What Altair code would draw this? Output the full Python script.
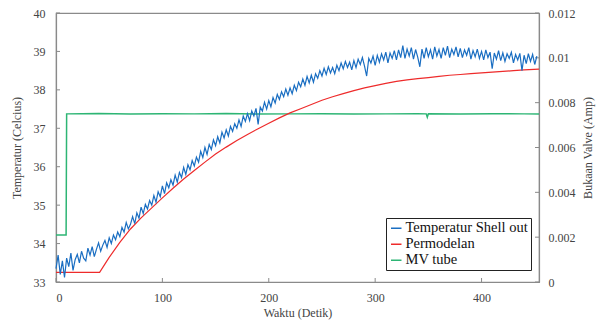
import altair as alt
import pandas as pd

# ---- data ----
series_names = ["Temperatur Shell out", "Permodelan", "MV tube"]
series_colors = ["#1a6ec2", "#ee2b2b", "#2db574"]

# Temperatur Shell out (measured, every 2 s)
blue_t = list(range(0, 454, 2))
blue_v = [
    33.35, 33.70, 33.20, 33.55, 33.12, 33.62, 33.40, 33.75, 33.30, 33.58,
    33.72, 33.50, 33.80, 33.62, 33.55, 33.88, 33.70, 33.92, 33.66, 33.85,
    34.02, 33.80, 33.96, 34.08, 33.90, 34.15, 34.00, 34.22, 34.10, 34.30,
    34.18, 34.42, 34.30, 34.55, 34.38, 34.50, 34.70, 34.52, 34.80, 34.66,
    34.95, 34.78, 35.02, 34.90, 35.12, 35.00, 35.25, 35.08, 35.35, 35.22,
    35.50, 35.30, 35.58, 35.45, 35.66, 35.52, 35.78, 35.60, 35.85, 35.72,
    35.98, 35.80, 36.05, 35.92, 36.16, 36.02, 36.25, 36.12, 36.40, 36.24,
    36.50, 36.32, 36.58, 36.45, 36.70, 36.55, 36.78, 36.62, 36.90, 36.75,
    36.96, 36.80, 37.05, 36.92, 37.12, 37.00, 37.22, 37.05, 37.32, 37.18,
    37.38, 37.20, 37.45, 37.32, 37.52, 37.10, 37.55, 37.45, 37.68, 37.50,
    37.72, 37.56, 37.80, 37.66, 37.88, 37.75, 37.95, 37.82, 38.02, 37.86,
    38.05, 37.90, 38.12, 37.98, 38.20, 38.08, 38.28, 38.12, 38.35, 38.18,
    38.38, 38.20, 38.42, 38.30, 38.50, 38.36, 38.56, 38.40, 38.60, 38.44,
    38.58, 38.42, 38.64, 38.50, 38.70, 38.55, 38.74, 38.58, 38.72, 38.52,
    38.76, 38.58, 38.80, 38.66, 38.84, 38.62, 38.36, 38.82, 38.70, 38.88,
    38.64, 38.90, 38.72, 38.94, 38.78, 38.98, 38.70, 38.96, 38.82, 39.02,
    38.78, 39.04, 38.84, 39.15, 38.82, 39.06, 38.88, 39.10, 38.80, 39.05,
    38.85, 38.60, 39.06, 38.82, 39.10, 38.86, 39.04, 38.80, 39.12, 38.88,
    39.05, 38.82, 39.10, 38.90, 39.14, 38.84, 39.06, 38.92, 39.12, 38.86,
    39.08, 38.84, 39.04, 38.90, 39.10, 38.80, 39.02, 38.86, 39.06, 38.82,
    39.00, 38.78, 39.04, 38.84, 38.98, 38.55, 38.96, 38.80, 39.02, 38.76,
    38.96, 38.74, 38.94, 38.82, 38.98, 38.70, 38.92, 38.78, 38.95, 38.50,
    38.90, 38.68, 38.94, 38.74, 38.92, 38.66, 38.88,
]

# Permodelan (model)
red_t = [0, 41, 50, 60, 70, 80, 90, 100, 110, 120, 130, 140, 150, 160, 170,
         180, 190, 200, 210, 220, 230, 240, 250, 260, 270, 280, 290, 300, 310,
         320, 330, 340, 350, 360, 370, 380, 390, 400, 410, 420, 430, 440, 454]
red_v = [33.25, 33.25, 33.64, 34.03, 34.38, 34.67, 34.93, 35.19, 35.44, 35.68,
         35.90, 36.12, 36.33, 36.51, 36.68, 36.84, 36.99, 37.13, 37.27, 37.40,
         37.51, 37.62, 37.73, 37.82, 37.90, 37.98, 38.05, 38.11, 38.17, 38.22,
         38.26, 38.29, 38.32, 38.35, 38.38, 38.40, 38.42, 38.44, 38.46, 38.48,
         38.50, 38.52, 38.54]

# MV tube (right axis)
green_t = [0, 9.5, 10, 40, 70, 100, 130, 160, 190, 220, 250, 280, 310, 340,
           348, 349, 350, 380, 410, 440, 454]
green_v = [0.0021, 0.0021, 0.0075, 0.00752, 0.00749, 0.00751, 0.0075,
           0.00752, 0.00749, 0.0075, 0.00751, 0.00749, 0.0075, 0.00751,
           0.0075, 0.00735, 0.0075, 0.00749, 0.00751, 0.0075, 0.0075]

x_ticks = [0, 100, 200, 300, 400]
left_ticks = [33, 34, 35, 36, 37, 38, 39, 40]
right_ticks = [0, 0.002, 0.004, 0.006, 0.008, 0.01, 0.012]

blue_df = pd.DataFrame({"t": blue_t, "v": blue_v, "s": series_names[0]})
red_df = pd.DataFrame({"t": red_t, "v": red_v, "s": series_names[1]})
green_df = pd.DataFrame({"t": green_t, "v": green_v, "s": series_names[2]})
xtick_df = pd.DataFrame({"t": x_ticks})
ltick_df = pd.DataFrame({"v": left_ticks})
rtick_df = pd.DataFrame({"v": right_ticks})

W, H = 483, 269
FONT = "Liberation Serif"
TICK_COLOR = "#8a8a8a"
AX = dict(labelFont=FONT, titleFont=FONT, labelFontSize=12, titleFontSize=12,
          labelColor="#444", titleColor="#444", titleFontWeight="normal",
          tickSize=0, domainColor="#8a8a8a", domainWidth=1.2, grid=False)

x_scale = alt.Scale(domain=[0, 454], nice=False, zero=False)
x_axis = alt.Axis(values=x_ticks, title="Waktu (Detik)", labelPadding=10,
                  titlePadding=4, **AX)
x_enc = alt.X("t:Q", scale=x_scale, axis=x_axis)

color_enc = alt.Color(
    "s:N",
    scale=alt.Scale(domain=series_names, range=series_colors),
    legend=alt.Legend(
        title=None, orient="none", legendX=330, legendY=205,
        symbolType="stroke", symbolSize=110, symbolStrokeWidth=1.5,
        labelFontSize=14.5, labelFont=FONT, labelColor="#111",
        strokeColor="#222", fillColor="white", padding=3,
        rowPadding=1, labelLimit=220, labelOffset=2,
    ),
)

left_scale = alt.Scale(domain=[33, 40], nice=False, zero=False)
left_axis = alt.Axis(values=left_ticks, title="Temperatur (Celcius)", orient="left",
                     labelPadding=11, titlePadding=10, **AX)
right_scale = alt.Scale(domain=[0, 0.012], nice=False)
right_axis = alt.Axis(values=right_ticks, orient="right", format=".3~f",
                      title="Bukaan Valve (Amp)", labelPadding=9,
                      titlePadding=7, titleAngle=270, titleBaseline="top", **AX)

red = alt.Chart(red_df).mark_line(strokeWidth=1.2).encode(
    x=x_enc, y=alt.Y("v:Q", scale=left_scale, axis=left_axis), color=color_enc
)
blue = alt.Chart(blue_df).mark_line(strokeWidth=1.2).encode(
    x=x_enc, y=alt.Y("v:Q", scale=left_scale, axis=left_axis), color=color_enc
)
# small inward ticks (like the reference's box axes)
xticks = alt.Chart(xtick_df).mark_rule(color=TICK_COLOR, strokeWidth=1).encode(
    x=x_enc, y=alt.value(H), y2=alt.value(H - 4)
)
lticks = alt.Chart(ltick_df).mark_rule(color=TICK_COLOR, strokeWidth=1).encode(
    y=alt.Y("v:Q", scale=left_scale, axis=left_axis), x=alt.value(0), x2=alt.value(4)
)
green = alt.Chart(green_df).mark_line(strokeWidth=1.5).encode(
    x=x_enc, y=alt.Y("v:Q", scale=right_scale, axis=right_axis), color=color_enc
)
rticks = alt.Chart(rtick_df).mark_rule(color=TICK_COLOR, strokeWidth=1).encode(
    y=alt.Y("v:Q", scale=right_scale, axis=right_axis), x=alt.value(W - 4), x2=alt.value(W)
)

chart = (
    alt.layer(alt.layer(green, rticks), alt.layer(red, blue, lticks, xticks))
    .resolve_scale(y="independent")
    .properties(
        width=W, height=H,
        autosize=alt.AutoSizeParams(type="none"),
        padding={"left": 48, "top": 5, "right": 58, "bottom": 40},
    )
    .configure(font=FONT)
    .configure_view(stroke="#8a8a8a", strokeWidth=1.2)
)

chart.save("out.html", embed_options={"renderer": "svg", "actions": False})
